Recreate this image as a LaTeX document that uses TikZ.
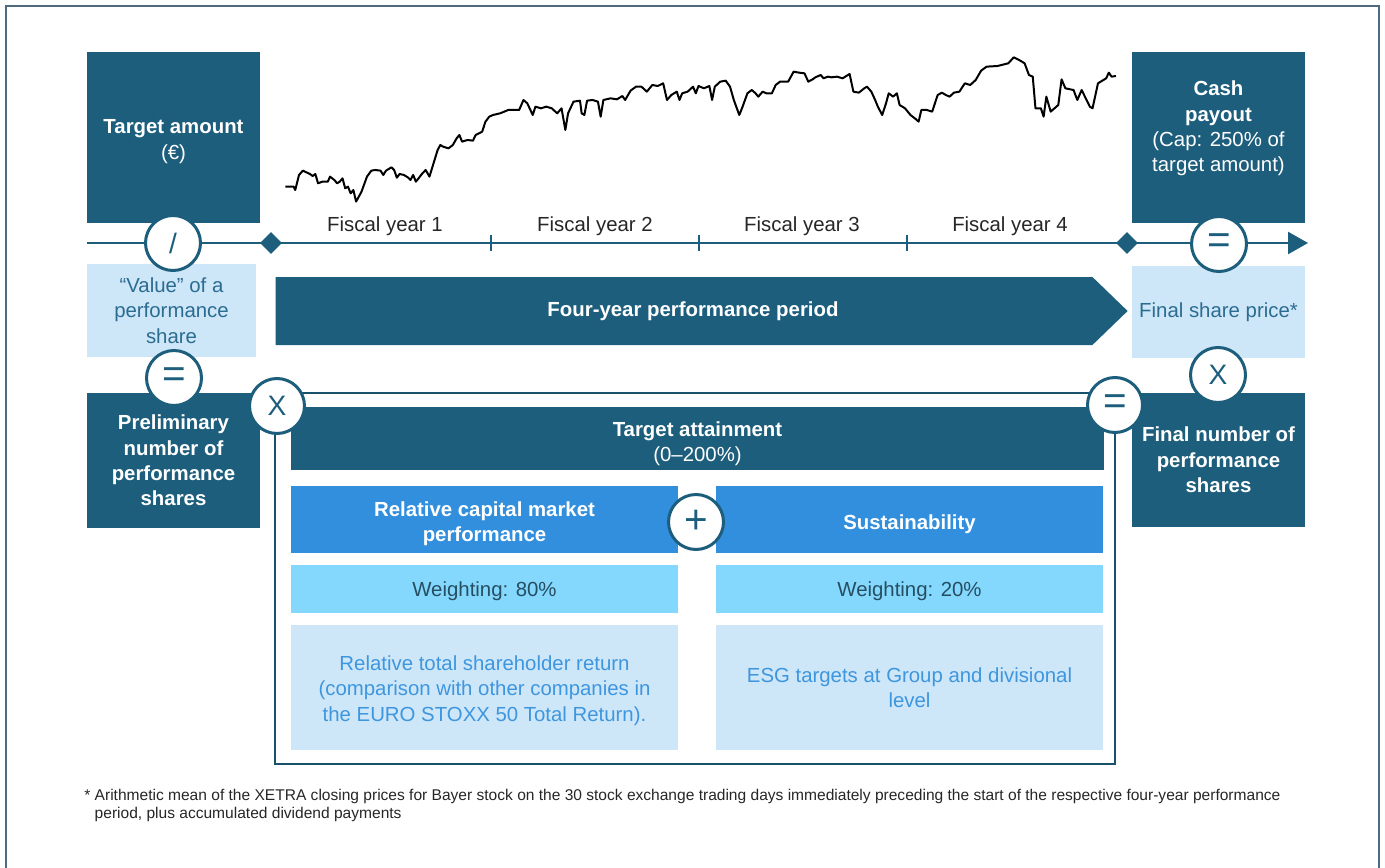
\documentclass[tikz,border=0pt]{standalone}
\usepackage{fontspec}
\setmainfont{Liberation Sans}
\usetikzlibrary{arrows.meta,shapes.arrows,shapes.geometric}

\definecolor{darkteal}{RGB}{29,94,125}
\definecolor{midblue}{RGB}{50,143,221}
\definecolor{skyblue}{RGB}{132,216,253}
\definecolor{paleblue}{RGB}{205,231,248}
\definecolor{framegray}{RGB}{78,106,126}
\definecolor{valuetext}{RGB}{44,108,145}
\definecolor{weighttext}{RGB}{38,78,98}
\definecolor{desctext}{RGB}{62,150,222}

% one unit = one pixel of the layout grid
\newdimen\px \px=0.02cm
\newcommand{\boxfont}{\fontsize{11.6}{14.4}\selectfont}

\begin{document}
\begin{tikzpicture}[x=1\px, y=-1\px,
                    darkbox/.style={rectangle, fill=darkteal, text=white, align=center, inner sep=0pt, font=\boxfont},
                    palebox/.style={rectangle, fill=paleblue, text=valuetext, align=center, inner sep=0pt, font=\boxfont},
                    headbox/.style={rectangle, fill=midblue, text=white, align=center, inner sep=0pt, font=\boxfont\bfseries,
                                    minimum width=387\px, minimum height=67\px},
                    weightbox/.style={rectangle, fill=skyblue, inner sep=0pt, minimum width=387\px, minimum height=48\px},
                    descbox/.style={rectangle, fill=paleblue, inner sep=0pt, minimum width=387\px, minimum height=125\px},
                    boxtext/.style={text=white, align=center, inner sep=0pt, font=\boxfont},
                    weighttxt/.style={boxtext, text=weighttext},
                    desctxt/.style={boxtext, text=desctext},
                    opnode/.style={circle, draw=darkteal, line width=3\px, fill=white, text=darkteal, inner sep=0pt,
                                   minimum size=55\px, font=\fontsize{16}{16}\selectfont},
                    bigop/.style={opnode, font=\fontsize{23}{23}\selectfont},
                    milestone/.style={diamond, fill=darkteal, inner sep=0pt, minimum size=22\px},
                    yearlabel/.style={text=black!85, font=\boxfont}
                   ]
\useasboundingbox (0,0) rectangle (1385,868);

% outer frame, open at the bottom
\draw[framegray, line width=2.5\px] (6,868) -- (6,6) -- (1379,6) -- (1379,868);

% share price curve
\begin{scope}[shift={(280,50)}, x=0.5435\px, y=-0.3333\px]
\draw[black, line width=2\px, line join=round] plot[sharp plot] coordinates {
  (10,410) (25,410) (28,420) (35,375) (42,362) (55,372) (60,378) (65,372) (70,400) (78,395) (88,395)
  (92,380) (100,390) (105,400) (110,395) (115,385) (120,415) (125,410) (130,430) (135,420) (140,455)
  (145,440) (150,425) (160,380) (168,362) (175,360) (185,362) (190,375) (195,362) (205,352) (210,360)
  (215,383) (220,372) (228,375) (235,382) (240,390) (245,375) (250,395) (255,385) (262,370) (268,360)
  (275,380) (290,300) (295,285) (300,290) (310,295) (318,285) (325,265) (330,255) (335,275) (345,270)
  (355,272) (360,255) (372,245) (378,215) (385,200) (392,195) (405,190) (420,180) (440,180) (448,150)
  (455,160) (465,195) (470,170) (480,175) (490,170) (500,175) (510,190) (518,175) (525,240) (530,190)
  (540,155) (552,152) (555,190) (560,195) (565,152) (575,150) (585,155) (590,200) (595,150) (608,145)
  (620,148) (630,138) (635,150) (645,122) (655,110) (665,110) (675,125) (685,105) (695,108) (705,100)
  (712,150) (720,135) (730,125) (735,150) (740,130) (750,125) (760,110) (765,130) (770,108) (780,115)
  (790,108) (795,150) (800,110) (810,95) (820,92) (828,110) (835,150) (845,195) (850,175) (860,130)
  (868,120) (875,130) (880,140) (888,125) (895,130) (905,130) (912,105) (920,95) (935,95) (945,65)
  (955,68) (965,70) (972,95) (980,88) (985,82) (995,75) (1000,85) (1008,80) (1015,82) (1025,80)
  (1035,85) (1048,72) (1055,125) (1065,128) (1075,115) (1080,110) (1088,125) (1095,150) (1100,170)
  (1108,195) (1115,160) (1120,130) (1128,140) (1135,130) (1140,165) (1150,175) (1160,195) (1168,205)
  (1175,215) (1180,180) (1190,180) (1200,185) (1210,135) (1218,128) (1225,135) (1232,140) (1240,128)
  (1250,125) (1260,100) (1270,105) (1280,90) (1290,62) (1300,50) (1320,48) (1340,40) (1350,22)
  (1360,30) (1370,40) (1378,75) (1385,80) (1390,175) (1400,175) (1405,200) (1410,140) (1418,185)
  (1425,175) (1432,165) (1438,88) (1445,115) (1460,120) (1467,150) (1475,120) (1490,170) (1495,175)
  (1505,100) (1520,85) (1525,68) (1530,80) (1538,78)};
\end{scope}

% boxes on the left and right
\node[darkbox, minimum width=173\px, minimum height=171\px,
      label={[boxtext, yshift=-4\px]center:{\textbf{Target amount}\\(€)}}] (amount) at (173.5,137.5) {};
\node[darkbox, minimum width=173\px, minimum height=171\px,
      label={[boxtext, yshift=9\px]center:{\textbf{Cash}\\\textbf{payout}\\(Cap: 250\% of\\target amount)}}] (payout) at (1218.5,137.5) {};
\node[palebox, minimum width=169\px, minimum height=93\px] (value) at (171.5,310.5)
  {“Value” of a\\performance\\share};
\node[palebox, minimum width=173\px, minimum height=92\px] (price) at (1218.5,312)
  {Final share price*};
\node[darkbox, font=\boxfont\bfseries, minimum width=173\px, minimum height=135\px] (prelim) at (173.5,460.5)
  {Preliminary\\number of\\performance\\shares};
\node[darkbox, font=\boxfont\bfseries, minimum width=173\px, minimum height=134\px] (final) at (1218.5,460)
  {Final number of\\performance\\shares};

% time axis
\coordinate (axisstart) at (87,243);
\coordinate (axisend) at (1308,243);
\draw[darkteal, line width=2.5\px, -{Triangle[length=0.4cm, width=0.44cm]}] (axisstart) -- (axisend);
\foreach \tx in {491,699,907}
  \draw[darkteal, line width=2.5\px] (\tx,235) -- (\tx,251);
\node[milestone] (start) at (271,243) {};
\node[milestone] (stop) at (1127,243) {};
\foreach \yr/\cx in {1/385,2/595,3/802,4/1010}
  \node[yearlabel] (year\yr) at (\cx,226) {Fiscal year \yr};

% performance period arrow
\node[single arrow, single arrow head extend=0pt, single arrow tip angle=88, fill=darkteal, text=white,
      font=\boxfont\bfseries, inner sep=0pt, minimum width=68\px, minimum height=852\px] (period) at (684,311)
  {\hspace*{18\px}Four-year performance period};

% target attainment block
\draw[darkteal!85!black, line width=2.5\px] (275,393) rectangle (1115,764);
\node[darkbox, minimum width=813\px, minimum height=63\px,
      label={[boxtext, yshift=-5\px]center:{\textbf{Target attainment}\\(0--200\%)}}] (attain) at (697.5,438.5) {};
\node[headbox, label={[boxtext, font=\boxfont\bfseries, yshift=-4\px]center:{Relative capital market\\performance}}]
  (capmarket) at (484.5,519.5) {};
\node[headbox, label={[boxtext, font=\boxfont\bfseries, yshift=-5\px]center:Sustainability}]
  (esg) at (909.5,519.5) {};
\node[weightbox, label={[weighttxt, yshift=-2\px]center:{Weighting: 80\%}}] (weightcap) at (484.5,589) {};
\node[weightbox, label={[weighttxt, yshift=-2\px]center:{Weighting: 20\%}}] (weightesg) at (909.5,589) {};
\node[descbox, label={[desctxt, yshift=-3\px]center:{Relative total shareholder return\\(comparison with other companies in\\the EURO STOXX 50 Total Return).}}]
  (desccap) at (484.5,687.5) {};
\node[descbox, label={[desctxt]center:{ESG targets at Group and divisional\\level}}]
  (descesg) at (909.5,687.5) {};

% operators
\node[opnode] (divide) at (173,243) {/};
\node[bigop] (equalpay) at (1219,244) {=};
\node[bigop] (equalprelim) at (174,378) {=};
\node[opnode] (timesprice) at (1218,375) {X};
\node[opnode] (timesattain) at (277,406) {X};
\node[bigop] (equalfinal) at (1115,405) {=};
\node[bigop] (plus) at (696,522) {+};

% footnote
\node[anchor=north west, align=left, inner sep=0pt, text=black!85, font=\fontsize{8.85}{10.3}\selectfont] (note) at (84,789)
  {* Arithmetic mean of the XETRA closing prices for Bayer stock on the 30 stock exchange trading days immediately preceding the start of the respective four-year performance\\
   \hphantom{*\ }period, plus accumulated dividend payments};
\end{tikzpicture}
\end{document}
